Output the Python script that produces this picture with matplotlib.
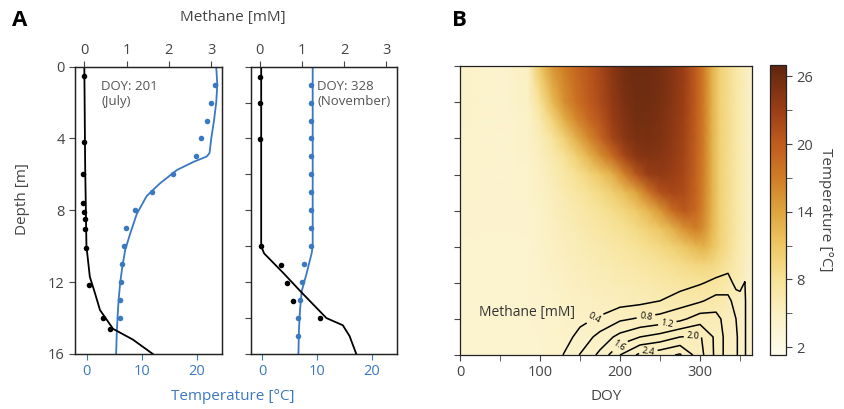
import numpy as np
import matplotlib
matplotlib.use("Agg")
import matplotlib.pyplot as plt
import matplotlib.colors as mcolors

plt.rcParams["font.family"] = ["Open Sans", "DejaVu Sans"]

# ---------------------------------------------------------------------------
# Panel A data
# ---------------------------------------------------------------------------
# DOY 201 (July)
jul_ch4_obs_depth = [0.5, 4.2, 6.0, 7.6, 8.1, 8.5, 9.05, 10.1, 12.15, 14.0, 14.6]
jul_ch4_obs = [0.0, 0.0, -0.02, -0.02, -0.01, 0.02, 0.02, 0.05, 0.10, 0.44, 0.61]
jul_ch4_mod_depth = [0, 5.6, 10.0, 11.7, 12.6, 13.55, 14.6, 15.2, 16.0]
jul_ch4_mod = [0.0, 0.02, 0.05, 0.13, 0.25, 0.37, 0.68, 1.15, 1.62]

jul_t_obs_depth = [1, 2, 3, 4, 5, 6, 7, 8, 9, 10, 11, 12, 13, 14]
jul_t_obs = [23.3, 22.6, 21.8, 20.8, 19.9, 15.6, 11.8, 8.8, 7.15, 6.8, 6.4, 6.2, 6.05, 6.05]
jul_t_mod_depth = [0, 1, 2, 3, 4, 4.8, 5.0, 5.3, 5.75, 6.5, 7.2, 8.2, 9.3, 10.2,
                   11.1, 12, 13, 14, 15, 16]
jul_t_mod = [23.5, 23.7, 23.5, 23.1, 22.6, 22.3, 21.8, 19.4, 16.4, 13.3, 10.9, 9.1,
             7.9, 7.0, 6.5, 6.1, 5.8, 5.6, 5.45, 5.35]

# DOY 328 (November)
nov_ch4_obs_depth = [0.55, 2.0, 4.05, 10.0, 11.04, 12.02, 13.03, 14.0]
nov_ch4_obs = [0.0, 0.0, 0.0, 0.02, 0.49, 0.64, 0.78, 1.43]
nov_ch4_mod_depth = [0, 10.0, 10.4, 11.5, 12.5, 14.0, 14.4, 15.0, 16.0]
nov_ch4_mod = [0.03, 0.03, 0.1, 0.56, 0.96, 1.58, 1.97, 2.13, 2.29]

nov_t_obs_depth = [1, 2, 3, 4, 5, 6, 7, 8, 9, 10, 11, 12, 13, 14, 15]
nov_t_obs = [8.9, 8.9, 8.9, 8.9, 8.9, 8.9, 8.9, 8.9, 8.9, 8.9, 7.7, 7.2, 6.9, 6.6, 6.6]
nov_t_mod_depth = [0, 10.0, 10.4, 11.5, 12.5, 13.5, 14.6, 16.0]
nov_t_mod = [9.2, 9.2, 9.0, 8.1, 7.2, 6.9, 6.7, 6.6]

# ---------------------------------------------------------------------------
# Panel B data: temperature (deg C) on a DOY x depth grid
# ---------------------------------------------------------------------------
grid_doy = [0, 50, 85, 100, 115, 130, 145, 160, 175, 190, 205, 220, 235, 250,
            265, 280, 295, 305, 315, 325, 345, 365]
grid_depth = [0, 2, 3, 4, 5, 6, 7, 8, 9, 10, 11, 12, 14, 16]
temp_field = [
    [4.5, 4.0, 5.0, 11, 15, 17, 19, 20.5, 22, 24, 25.5, 26, 26, 25.5, 24.5, 23, 20, 17, 13, 10, 7, 4.5],
    [4.5, 4.0, 4.8, 8, 12, 15.5, 18, 20, 21.5, 23.5, 25, 25.8, 25.8, 25.3, 24.3, 22.8, 20, 17, 13, 10, 7, 4.5],
    [4.4, 4.0, 4.6, 6.5, 9.5, 13, 16, 18.5, 20.5, 23, 24.5, 25.5, 25.5, 25, 24, 22.6, 19.8, 17, 13, 10, 7, 4.5],
    [4.3, 4.0, 4.5, 5.8, 7.5, 10, 13, 16, 19, 22, 24, 25, 25.2, 24.8, 23.8, 22.4, 19.7, 16.9, 13, 10, 7, 4.5],
    [4.3, 4.0, 4.4, 5.3, 6.5, 8, 10, 12.5, 15.5, 18.5, 22, 24, 24.5, 24.3, 23.5, 22.2, 19.6, 16.8, 13, 10, 7, 4.5],
    [4.2, 4.0, 4.3, 5.0, 6.0, 7.0, 8.2, 9.5, 11, 13, 16.5, 20.5, 23, 23.5, 23, 22, 19.4, 16.7, 13, 10, 7, 4.5],
    [4.2, 4.0, 4.2, 4.8, 5.6, 6.4, 7.2, 8, 9, 10.2, 11.8, 14, 17.5, 21, 22, 21.5, 19.2, 16.5, 13, 10, 7, 4.5],
    [4.1, 4.0, 4.1, 4.6, 5.3, 6.0, 6.6, 7.2, 7.9, 8.6, 9.5, 10.8, 12.5, 15, 18.5, 20.5, 18.8, 16.2, 12.8, 10, 7, 4.5],
    [4.1, 4.0, 4.1, 4.5, 5.1, 5.7, 6.2, 6.7, 7.2, 7.7, 8.3, 9.0, 10, 11.2, 13, 15.5, 17, 15.5, 12.5, 10, 7, 4.5],
    [4.0, 4.0, 4.0, 4.4, 4.9, 5.4, 5.8, 6.2, 6.6, 7, 7.4, 7.9, 8.5, 9.2, 10, 11.2, 12.5, 13, 11.5, 9.8, 6.8, 4.5],
    [4.0, 4.0, 4.0, 4.3, 4.7, 5.1, 5.5, 5.8, 6.1, 6.4, 6.7, 7, 7.4, 7.8, 8.3, 8.8, 9.3, 9.5, 9.3, 8.5, 6.5, 4.4],
    [4.0, 4.0, 4.0, 4.2, 4.5, 4.9, 5.2, 5.5, 5.7, 5.9, 6.1, 6.4, 6.6, 6.9, 7.2, 7.5, 7.7, 7.8, 7.6, 7.3, 6.0, 4.3],
    [4.0, 4.0, 4.0, 4.1, 4.3, 4.5, 4.7, 4.9, 5.0, 5.1, 5.3, 5.4, 5.5, 5.6, 5.7, 5.8, 5.9, 5.9, 5.9, 5.8, 5.2, 4.2],
    [4.0, 4.0, 4.0, 4.0, 4.2, 4.3, 4.4, 4.5, 4.6, 4.7, 4.8, 4.9, 5.0, 5.1, 5.2, 5.3, 5.4, 5.4, 5.4, 5.3, 4.8, 4.1],
]

# methane (mM) in the bottom layer
ch4_doy = [0, 120, 130, 150, 175, 200, 225, 250, 275, 300, 320, 335, 345, 350, 356, 360, 365]
ch4_depth = [10, 11, 12, 13, 14, 15, 16]
ch4_field = [
    [0, 0.00, 0.00, 0.00, 0.01, 0.01, 0.01, 0.02, 0.02, 0.03, 0.04, 0.05, 0.02, 0.02, 0.02, 0.0, 0],
    [0, 0.01, 0.01, 0.02, 0.03, 0.03, 0.04, 0.05, 0.06, 0.10, 0.15, 0.22, 0.08, 0.06, 0.10, 0.0, 0],
    [0, 0.02, 0.02, 0.05, 0.07, 0.08, 0.10, 0.15, 0.22, 0.36, 0.50, 0.60, 0.25, 0.22, 0.42, 0.0, 0],
    [0, 0.02, 0.05, 0.12, 0.18, 0.22, 0.28, 0.40, 0.60, 0.75, 0.95, 0.90, 0.65, 0.60, 0.50, 0.05, 0],
    [0, 0.03, 0.12, 0.30, 0.45, 0.73, 0.85, 0.95, 1.10, 1.40, 1.35, 0.98, 0.80, 0.68, 0.50, 0.05, 0],
    [0, 0.10, 0.25, 0.52, 0.95, 1.33, 1.60, 1.75, 2.00, 2.05, 1.50, 1.00, 0.85, 0.70, 0.50, 0.05, 0],
    [0, 0.25, 0.42, 0.82, 1.30, 2.00, 2.50, 2.65, 2.85, 2.15, 1.50, 1.00, 0.85, 0.70, 0.50, 0.05, 0],
]
ch4_levels = [0.4, 0.8, 1.2, 1.6, 2.0, 2.4, 2.8]
ch4_labelled = [0.4, 0.8, 1.2, 1.6, 2.0, 2.4]

temp_cb_ticks = [2, 8, 14, 20, 26]
temp_cb_minor = [5, 11, 17, 23]

# ---------------------------------------------------------------------------
# Style
# ---------------------------------------------------------------------------
BLUE = "#3b78c2"
GREY = "#444444"
cmap_t = mcolors.LinearSegmentedColormap.from_list("lake", [
    (0.000, (254/255, 252/255, 238/255)),
    (0.027, (253/255, 250/255, 228/255)),
    (0.144, (251/255, 240/255, 195/255)),
    (0.261, (247/255, 226/255, 150/255)),
    (0.377, (238/255, 200/255, 100/255)),
    (0.494, (222/255, 165/255, 62/255)),
    (0.611, (208/255, 125/255, 38/255)),
    (0.728, (192/255, 92/255, 30/255)),
    (0.844, (155/255, 62/255, 22/255)),
    (1.000, (95/255, 38/255, 14/255)),
])
T_MIN, T_MAX = 1.3, 27.0

fig = plt.figure(figsize=(8.44, 4.09), dpi=100, facecolor="white")

ax1 = fig.add_axes([0.0889, 0.1345, 0.1738, 0.7025])
ax2 = fig.add_axes([0.2970, 0.1345, 0.1730, 0.7025])


def profile(ax, t_od, t_o, t_md, t_m, c_od, c_o, c_md, c_m, show_y):
    ax.plot(t_m, t_md, color=BLUE, lw=1.3, zorder=2)
    ax.plot(t_o, t_od, "o", color=BLUE, ms=4, mec="none", zorder=3)
    ax.set_xlim(-2.1, 24.5)
    ax.set_ylim(16, 0)
    ax.set_xticks([0, 10, 20])
    ax.tick_params(axis="x", colors=BLUE, labelsize=10.5, length=4, pad=3)
    ax.tick_params(axis="y", colors=GREY, labelsize=10.5, length=4)
    if show_y:
        ax.set_yticks([0, 4, 8, 12, 16])
    else:
        ax.set_yticks(np.arange(0, 17, 2))
        ax.set_yticklabels([])
    axt = ax.twiny()
    axt.plot(c_m, c_md, color="black", lw=1.3, zorder=2)
    axt.plot(c_o, c_od, "o", color="black", ms=4, mec="none", zorder=3)
    axt.set_xlim(-0.22, 3.25)
    axt.set_xticks([0, 1, 2, 3])
    axt.tick_params(axis="x", colors=GREY, labelsize=10.5, length=4, pad=2)
    for a in (ax, axt):
        for s in a.spines.values():
            s.set_color("#222222")
            s.set_linewidth(0.9)
    return axt


at1 = profile(ax1, jul_t_obs_depth, jul_t_obs, jul_t_mod_depth, jul_t_mod,
              jul_ch4_obs_depth, jul_ch4_obs, jul_ch4_mod_depth, jul_ch4_mod, True)
at2 = profile(ax2, nov_t_obs_depth, nov_t_obs, nov_t_mod_depth, nov_t_mod,
              nov_ch4_obs_depth, nov_ch4_obs, nov_ch4_mod_depth, nov_ch4_mod, False)

ax1.text(0.18, 0.955, "DOY: 201\n(July)", transform=ax1.transAxes, va="top",
         ha="left", fontsize=9.5, color="#555555", linespacing=1.25)
ax2.text(0.455, 0.955, "DOY: 328\n(November)", transform=ax2.transAxes, va="top",
         ha="left", fontsize=9.5, color="#555555", linespacing=1.25)

fig.text(233 / 844, 1 - 18 / 409, "Methane [mM]", ha="center", va="center",
         fontsize=11, color=GREY)
fig.text(233 / 844, 1 - 396 / 409, "Temperature [°C]", ha="center", va="center",
         fontsize=11, color=BLUE)
fig.text(22 / 844, 1 - 199 / 409, "Depth [m]", ha="center", va="center",
         fontsize=11, color=GREY, rotation=90)
fig.text(12 / 844, 1 - 20 / 409, "A", fontsize=16, fontweight="bold",
         ha="left", va="center")
fig.text(452 / 844, 1 - 20 / 409, "B", fontsize=16, fontweight="bold",
         ha="left", va="center")

# ---------------------------------------------------------------------------
# Panel B
# ---------------------------------------------------------------------------
axb = fig.add_axes([0.5450, 0.1320, 0.3460, 0.7060])
pcm = axb.pcolormesh(grid_doy, grid_depth, np.array(temp_field), cmap=cmap_t,
                     vmin=T_MIN, vmax=T_MAX, shading="gouraud", rasterized=True)
cs = axb.contour(ch4_doy, ch4_depth, np.array(ch4_field), levels=ch4_levels,
                 colors="black", linewidths=1.1)
manual = [(169, 14.0), (233, 14.0), (259, 14.2), (198, 15.4), (291, 14.7), (235, 15.7)]
axb.clabel(cs, levels=ch4_labelled, inline=True, fmt="%.1f", fontsize=6.5,
           manual=manual, inline_spacing=3)
axb.text(24, 13.67, "Methane [mM]", fontsize=10, color="#333333", va="center")
axb.set_xlim(0, 365)
axb.set_ylim(16, 0)
axb.set_xticks([0, 100, 200, 300])
axb.set_xticks([50, 150, 250, 350], minor=True)
axb.set_yticks(np.arange(0, 17, 2))
axb.set_yticklabels([])
axb.tick_params(axis="both", which="both", colors=GREY, labelsize=10.5, length=4)
axb.set_xlabel("DOY", fontsize=11, color=GREY, labelpad=6)
for s in axb.spines.values():
    s.set_color("#222222")
    s.set_linewidth(0.9)

cax = fig.add_axes([0.9123, 0.1320, 0.0190, 0.7090])
cb = fig.colorbar(pcm, cax=cax)
cb.set_ticks(temp_cb_ticks)
cb.ax.set_yticks(temp_cb_minor, minor=True)
cb.ax.tick_params(which="both", colors=GREY, labelsize=10.5, length=4)
cb.outline.set_edgecolor("#222222")
cb.outline.set_linewidth(0.9)
cb.set_label("Temperature [°C]", rotation=270, fontsize=11, color=GREY, labelpad=14)

fig.savefig("out.png", dpi=100, facecolor="white")
